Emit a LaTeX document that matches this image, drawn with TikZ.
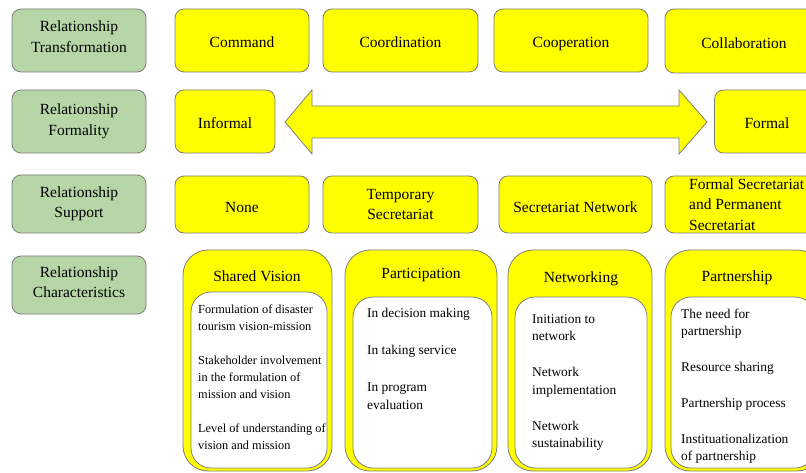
\documentclass[tikz,border=0pt]{standalone}
\usepackage{fontspec}
\setmainfont{Liberation Serif}
\definecolor{grn}{RGB}{182,214,167}
\definecolor{ylw}{RGB}{255,255,0}
\definecolor{edge}{RGB}{125,125,125}
\newcommand\mybigfont{\fontsize{15.5}{20.5}\selectfont}
\newcommand\mysmallfont{\fontsize{12.3}{17}\selectfont}
\newcommand\mymidfont{\fontsize{13.4}{17.5}\selectfont}
\begin{document}
\begin{tikzpicture}[x=1pt,y=-1pt,
  labelbox/.style={draw=edge, fill=grn, rounded corners=9pt, minimum width=134pt, align=center, font=\mybigfont, line width=0.8pt, inner sep=0pt},
  ybox/.style={draw=edge, fill=ylw, rounded corners=9pt, align=center, font=\mybigfont, line width=0.8pt, inner sep=0pt},
  oneline/.style={text height=14pt, text depth=0.5pt},
  outerbox/.style={draw=edge, fill=ylw, rounded corners=25pt, line width=0.8pt, minimum height=221pt, inner sep=0pt},
  innerbox/.style={draw=edge, fill=white, rounded corners=20pt, line width=0.8pt, inner sep=0pt},
  title/.style={font=\mybigfont, anchor=base, inner sep=0pt},
  items/.style={font=\mymidfont, align=left, anchor=north west, inner sep=0pt}
]
\clip (0,0) rectangle (806,473);
\fill[white] (0,0) rectangle (806,473);

% left labels
\node[labelbox, minimum height=63pt] (g1) at (79,40.5) {Relationship\\Transformation\rule[-8pt]{0pt}{0pt}};
\node[labelbox, minimum height=63pt] (g2) at (79,121.5) {Relationship\\Formality\rule[-2pt]{0pt}{0pt}};
\node[labelbox, minimum height=58pt] (g3) at (79,204) {Relationship\\Support};
\node[labelbox, minimum height=58pt] (g4) at (79,285) {Relationship\\Characteristics\rule[-6pt]{0pt}{0pt}};

% row 1
\node[ybox, oneline, minimum width=134pt, minimum height=63pt] (c1) at (242,40.5) {Command};
\node[ybox, oneline, minimum width=155pt, minimum height=63pt] (c2) at (400.5,40.5) {Coordination};
\node[ybox, oneline, minimum width=154pt, minimum height=63pt] (c3) at (571,40.5) {Cooperation};
\node[ybox, oneline, text height=16pt, minimum width=158pt, minimum height=64pt] (c4) at (744,41) {Collaboration};

% row 2
\node[ybox, oneline, minimum width=100pt, minimum height=63pt] (inf) at (225,121.5) {Informal};
\node[ybox, oneline, minimum width=105pt, minimum height=63pt] (form) at (767,121.5) {Formal};
\draw[draw=edge, fill=ylw, line width=0.8pt] (285,122) -- (312,90) -- (312,106) -- (679,106) -- (679,90)
  -- (707,122) -- (679,154) -- (679,138) -- (312,138) -- (312,154) -- cycle;

% row 3
\node[ybox, oneline, text height=16pt, minimum width=134pt, minimum height=57pt] (s1) at (242,204.5) {None};
\node[ybox, minimum width=155pt, minimum height=57pt] (s2) at (400.5,204.5) {Temporary\\Secretariat};
\node[ybox, oneline, text height=16pt, minimum width=153pt, minimum height=57pt] (s3) at (575.5,204.5) {Secretariat Network};
\node[ybox, minimum width=157pt, minimum height=57pt] (s4) at (743.5,204.5) {};
\node[font=\mybigfont, align=left, anchor=west, inner sep=0pt] (s4t) at (689,204.5) {Formal Secretariat\\and Permanent\\Secretariat};

% row 4
\node[outerbox, minimum width=149pt] (o1) at (257.5,360.5) {};
\node[outerbox, minimum width=152pt] (o2) at (421,360.5) {};
\node[outerbox, minimum width=144pt] (o3) at (580,360.5) {};
\node[outerbox, minimum width=157pt] (o4) at (743.5,360.5) {};

\node[innerbox, minimum width=136pt, minimum height=176pt] (i1) at (259,380) {};
\node[innerbox, minimum width=139pt, minimum height=171pt] (i2) at (422.5,382.5) {};
\node[innerbox, minimum width=132pt, minimum height=171pt] (i3) at (581,382.5) {};
\node[innerbox, minimum width=144pt, minimum height=171pt] (i4) at (743,382.5) {};

\node[title] (t1) at (257,281) {Shared Vision};
\node[title] (t2) at (421,279) {Participation};
\node[title] (t3) at (581,282) {Networking};
\node[title] (t4) at (737,281) {Partnership};

\node[items, font=\mysmallfont] (l1) at (198,304.5) {Formulation of disaster\\tourism vision-mission\\[17pt]Stakeholder involvement\\in the formulation of\\mission and vision\\[17pt]Level of understanding of\\vision and mission};
\node[items] (l2) at (367,308.4) {In decision making\\[19.5pt]In taking service\\[19.5pt]In program\\evaluation};
\node[items] (l3) at (532,314.4) {Initiation to\\network\\[18.5pt]Network\\implementation\\[18.5pt]Network\\sustainability};
\node[items] (l4) at (681,308.4) {The need for\\partnership\\[18.5pt]Resource sharing\\[18.5pt]Partnership process\\[18pt]Instituationalization\\of partnership};
\end{tikzpicture}
\end{document}
